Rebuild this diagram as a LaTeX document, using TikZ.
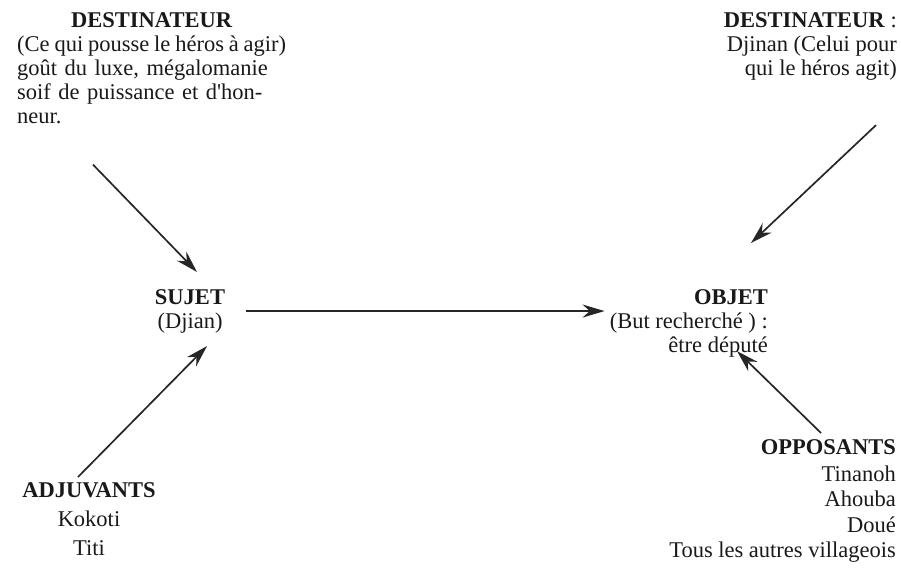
\documentclass[tikz,border=0pt]{standalone}
\usepackage{fontspec}
\setmainfont{Liberation Serif}
\usetikzlibrary{positioning,arrows.meta}

\begin{document}
\begin{tikzpicture}[x=1pt, y=-1pt,
                textnode/.style={inner sep=0pt, text=black!90, font=\fontsize{22.5}{24}\selectfont},
                arr/.style={-{Stealth[length=22pt, width=13pt]}, line width=1.7pt, draw=black!85},
            ]
            \useasboundingbox (0,0) rectangle (901,573);

            \node[textnode]  (destL)  at (17,12)   [anchor=north west, text width=269pt, align=left]
                {\makebox[\linewidth]{\textbf{DESTINATEUR}}\\\makebox[\linewidth][s]{\spaceskip=2pt plus 2pt\relax(Ce qui pousse le héros à agir)}\\goût du luxe, mégalomanie\\\makebox[\linewidth][s]{soif de puissance et d\textquotesingle hon-}\\neur.};
            \node[textnode]  (destR)  at (897,12)  [anchor=north east, align=right]
                {\textbf{DESTINATEUR} :\\Djinan (Celui pour\\qui le héros agit)};
            \node[textnode]  (sujet)  at (190,289) [anchor=north, align=center]  {\textbf{SUJET}\\(Djian)};
            \node[textnode]  (objet)  at (768,289) [anchor=north east, align=right]
                {\textbf{OBJET}\\(But recherché ) :\\être député};
            \node[textnode]  (adjuv)  at (89,482)  [anchor=north, align=center, font=\fontsize{22.5}{29}\selectfont]
                {\textbf{ADJUVANTS}\\Kokoti\\Titi};
            \node[textnode]  (oppos)  at (896,439) [anchor=north east, align=right, font=\fontsize{22.5}{25.5}\selectfont]
                {\textbf{OPPOSANTS}\\[1.5pt]Tinanoh\\Ahouba\\Doué\\Tous les autres villageois};

            \draw[arr] ([shift={(76,41)}]destL.south west) -- ([shift={(7,-17)}]sujet.north);
            \draw[arr] ([shift={(-21,45)}]destR.south east) -- ([shift={(-17,-46)}]objet.north east);
            \draw[arr] ([xshift=21pt]sujet.east) -- ([xshift=-5pt]sujet.east -| objet.west);
            \draw[arr] ([shift={(-11,-5)}]adjuv.north) -- ([shift={(17,13)}]sujet.south);
            \draw[arr] ([shift={(-75,-6)}]oppos.north east) -- ([shift={(-31,-6)}]objet.south east);
        \end{tikzpicture}
\end{document}
